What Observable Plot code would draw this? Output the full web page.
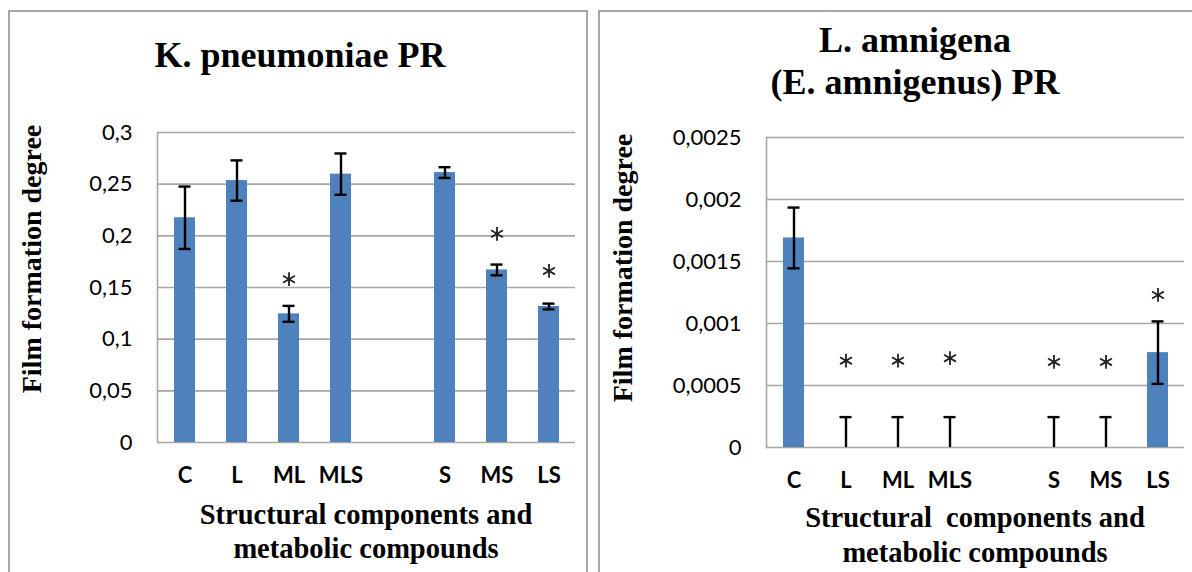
<!DOCTYPE html>
<html><head><meta charset="utf-8">
<script src="https://cdn.jsdelivr.net/npm/d3@7"></script>
<script src="https://cdn.jsdelivr.net/npm/@observablehq/plot@0.6"></script>
<style>
html,body{margin:0;padding:0;background:#fff;}
#root{position:relative;width:1192px;height:572px;overflow:hidden;background:#fff;}
.panel{position:absolute;border:2px solid #a6a6a6;box-sizing:border-box;}
.t{position:absolute;font-family:"Liberation Serif","Times New Roman",serif;font-weight:bold;color:#000;white-space:nowrap;transform:translate(-50%,-50%);text-align:center;}
.chart{position:absolute;top:0;}
</style></head><body>
<div id="root"></div>
<script>
// ---- data ----
const slots = ["C","L","ML","MLS"," ","S","MS","LS"];          // x-axis slots (blank = gap)
const categories = ["C","L","ML","MLS","S","MS","LS"];
const kpMeans  = [0.2175, 0.2535, 0.1245, 0.2597, 0.2612, 0.1670, 0.1316];
const kpErrors = [0.0302, 0.0195, 0.0077, 0.0200, 0.0052, 0.0052, 0.0028];
const kpStarCats = ["ML","MS","LS"];
const kpStarY    = [0.158, 0.202, 0.166];
const kpTicks  = [0, 0.05, 0.1, 0.15, 0.2, 0.25, 0.3];
const kpTickLabels = ["0","0,05","0,1","0,15","0,2","0,25","0,3"];

const laMeans  = [0.00169, 0, 0, 0, 0, 0, 0.000765];
const laErrors = [0.000245, 0.000245, 0.000245, 0.000245, 0.000245, 0.000245, 0.000252];
const laStarCats = ["L","ML","MLS","S","MS","LS"];
const laStarY    = [0.00070, 0.00070, 0.00072, 0.00069, 0.00069, 0.00123];
const laTicks  = [0, 0.0005, 0.001, 0.0015, 0.002, 0.0025];
const laTickLabels = ["0","0,0005","0,001","0,0015","0,002","0,0025"];

const titles = {
  kp: ["K. pneumoniae PR"],
  la: ["L. amnigena", "(E. amnigenus) PR"],
  y: "Film formation degree",
  xLeft: ["Structural components and", "metabolic compounds"],
  xRight: ["Structural\u00a0 components and", "metabolic compounds"]
};

// ---- drawing ----
const root = document.getElementById("root");
function addText(txt, cx, cy, size, extra) {
  const d = document.createElement("div");
  d.className = "t";
  d.textContent = txt;
  d.style.left = cx + "px"; d.style.top = cy + "px";
  d.style.fontSize = size + "px"; d.style.lineHeight = "1";
  if (extra) Object.assign(d.style, extra);
  root.appendChild(d);
}
function addPanel(l, t, w, h) {
  const p = document.createElement("div");
  p.className = "panel";
  Object.assign(p.style, {left: l + "px", top: t + "px", width: w + "px", height: h + "px"});
  root.appendChild(p);
}

function chart(o) {
  const rows = categories.map((c, i) => ({
    c, v: o.means[i],
    lo: Math.max(0, o.means[i] - o.errs[i]),
    hi: o.means[i] + o.errs[i],
    hasLo: o.means[i] - o.errs[i] > 0
  }));
  const stars = o.starCats.map((c, i) => ({c, s: o.starY[i]}));
  return Plot.plot({
    width: o.width, height: 572,
    marginLeft: o.ml, marginRight: o.mr, marginTop: o.mt, marginBottom: o.mb,
    style: {fontFamily: "Lato, 'Open Sans', sans-serif", fontSize: "22px", color: "#000", background: "transparent"},
    x: {domain: slots, paddingInner: 0.6, paddingOuter: 0.3, axis: null},
    y: {domain: [0, o.ticks[o.ticks.length - 1]], axis: null},
    marks: [
      Plot.gridY(o.ticks, {stroke: "#a6a6a6", strokeOpacity: 1, strokeWidth: 1.6}),
      Plot.frame({anchor: "left", stroke: "#a6a6a6", strokeWidth: 1.6}),
      Plot.barY(rows, {x: "c", y: "v", fill: "#4f81bd"}),
      Plot.ruleX(rows, {x: "c", y1: "lo", y2: "hi", stroke: "#000", strokeWidth: 2.4}),
      Plot.tickY(rows, {x: "c", y: "hi", stroke: "#000", strokeWidth: 2.4, inset: 4.5}),
      Plot.tickY(rows.filter(d => d.hasLo), {x: "c", y: "lo", stroke: "#000", strokeWidth: 2.4, inset: 4.5}),
      Plot.dot(stars, {x: "c", y: "s", symbol: "asterisk", r: 6.5, stroke: "#222", strokeWidth: 1.8}),
      Plot.axisY(o.ticks, {tickSize: 0, tickPadding: o.tp, tickFormat: d => o.labels[o.ticks.indexOf(d)], label: null, fontSize: 22}),
      Plot.axisX(categories, {tickSize: 0, tickPadding: 25, label: null, fontSize: 22, fontWeight: "bold"})
    ]
  });
}

addPanel(8, 10, 580, 620);
addPanel(598, 10, 620, 620);

const left = chart({means: kpMeans, errs: kpErrors, starCats: kpStarCats, starY: kpStarY,
  ticks: kpTicks, labels: kpTickLabels, width: 592, ml: 157, mr: 17, mt: 132, mb: 130, tp: 25});
left.classList.add("chart"); left.style.left = "0px";
root.appendChild(left);

const right = chart({means: laMeans, errs: laErrors, starCats: laStarCats, starY: laStarY,
  ticks: laTicks, labels: laTickLabels, width: 596, ml: 170, mr: 8, mt: 137, mb: 125, tp: 25});
right.classList.add("chart"); right.style.left = "596px";
root.appendChild(right);

// titles
addText(titles.kp[0], 300, 55, 36);
addText(titles.la[0], 915, 40, 36);
addText(titles.la[1], 915, 82, 36);
addText(titles.y, 32, 259, 28, {transform: "translate(-50%,-50%) rotate(-90deg)"});
addText(titles.y, 623, 268, 28, {transform: "translate(-50%,-50%) rotate(-90deg)"});
addText(titles.xLeft[0], 366, 515, 28.5);
addText(titles.xLeft[1], 366, 549, 28.5);
addText(titles.xRight[0], 975, 518, 28.5);
addText(titles.xRight[1], 975, 553, 28.5);
</script>
</body></html>
